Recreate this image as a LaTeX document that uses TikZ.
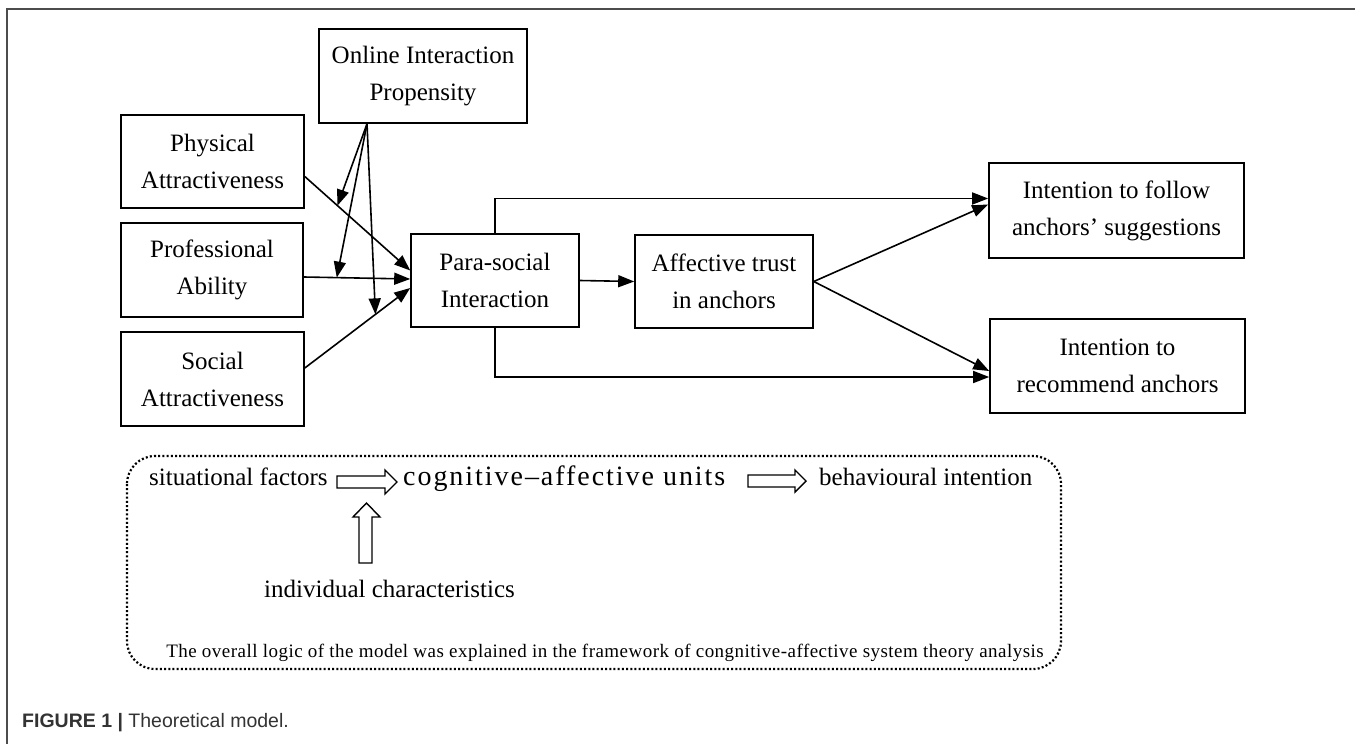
\documentclass[tikz,border=0pt]{standalone}
\usepackage{fontspec}
\setmainfont{Liberation Serif}
\newfontfamily\capfont{Liberation Sans}
\usetikzlibrary{arrows.meta,calc}
\begin{document}
\begin{tikzpicture}[x=1pt,y=-1pt,
  box/.style={draw,line width=1.6pt,align=center,inner sep=0pt,font=\fontsize{25}{37}\selectfont},
  conn/.style={line width=1.6pt,-{Triangle[length=16pt,width=12pt]}},
  hollow/.style={draw,line width=1.4pt,fill=white,line join=miter},
  lbl/.style={inner sep=0pt,font=\fontsize{25}{30}\selectfont},
]
\useasboundingbox (0,0) rectangle (1355,744);
\fill[white] (0,0) rectangle (1355,744);
\draw[line width=2pt, black!70] (7,744) -- (7,9) -- (1355,9);

% boxes
\node[box, minimum width=208pt, minimum height=94pt] (online) at (423,76) {Online Interaction\\Propensity};
\node[box, minimum width=183pt, minimum height=93pt] (phys) at (212.5,161.5) {Physical\\Attractiveness};
\node[box, minimum width=182pt, minimum height=94pt] (prof) at (212,270) {Professional\\Ability};
\node[box, minimum width=183pt, minimum height=94pt] (soc) at (212.5,379) {Social\\Attractiveness};
\node[box, minimum width=168pt, minimum height=93pt] (para) at (495,280.5) {Para-social\\Interaction};
\node[box, minimum width=178pt, minimum height=93pt] (aff) at (724,281.5) {Affective trust\\in anchors};
\node[box, minimum width=255pt, minimum height=95pt] (follow) at (1116.5,210.5) {Intention to follow\\anchors’ suggestions};
\node[box, minimum width=255pt, minimum height=94pt] (rec) at (1117.5,366) {Intention to\\recommend anchors};

% antecedents -> para-social
\coordinate (pe) at ($(phys.east)+(0,15)$);
\coordinate (re) at ($(prof.east)+(0,7)$);
\coordinate (se) at ($(soc.east)+(0,-11)$);
\coordinate (p1) at ($(para.west)+(0,-10)$);
\coordinate (p2) at ($(para.west)+(0,-1.5)$);
\coordinate (p3) at ($(para.west)+(0,7.5)$);
\draw[conn] (pe) -- (p1);
\draw[conn] (re) -- (p2);
\draw[conn] (se) -- (p3);
\path (pe) -- (p1) coordinate[pos=0.31] (m1);
\path (re) -- (p2) coordinate[pos=0.31] (m2);
\path (se) -- (p3) coordinate[pos=0.67] (m3);

% moderation
\coordinate (os) at ($(online.south)+(-56,0)$);
\draw[conn] (os) -- (m1);
\draw[conn] (os) -- (m2);
\draw[conn] (os) -- (m3);

% main path
\draw[conn] (para.east) -- (aff.west);
\coordinate (f1) at ($(follow.west)+(0,-12)$);
\coordinate (f2) at ($(follow.west)+(0,-6)$);
\coordinate (r1) at ($(rec.west)+(0,11)$);
\coordinate (r2) at ($(rec.west)+(0,5)$);
\draw[conn] (para.north) |- (f1);
\draw[conn] (aff.east) -- (f2);
\draw[conn] (para.south) |- (r1);
\draw[conn] (aff.east) -- (r2);

% dotted frame
\draw[line width=2.2pt, dash pattern=on 2pt off 2.2pt, rounded corners=28pt] (127,456) rectangle (1061,669);

\node[lbl, anchor=base west] (sit) at (149,485) {situational factors};
\node[lbl, anchor=base west, font=\fontsize{28}{30}\selectfont] (cog) at (403,485) {\addfontfeature{LetterSpace=7}cognitive–affective units};
\node[lbl, anchor=base west] (beh) at (819,485) {behavioural intention};
\node[lbl, anchor=base] (ind) at (389.5,597) {individual characteristics};

\draw[hollow] (337,476) -- (385,476) -- (385,470) -- (397,482) -- (385,494) -- (385,488) -- (337,488) -- cycle;
\draw[hollow] (748,475) -- (795,475) -- (795,470) -- (806,481) -- (795,492) -- (795,487) -- (748,487) -- cycle;
\draw[hollow] (359,563) -- (359,517) -- (353,517) -- (366.5,503) -- (380,517) -- (372,517) -- (372,563) -- cycle;

\node[inner sep=0pt, anchor=base, font=\fontsize{19}{22}\selectfont] (note) at (605,657) {\addfontfeature{LetterSpace=2.5}The overall logic of the model was explained in the framework of congnitive-affective system theory analysis};

\node[inner sep=0pt, anchor=base west, text=black!80, font=\capfont\fontsize{19.5}{22}\selectfont] (cap) at (22,727) {\textbf{FIGURE 1 |} Theoretical model.};
\end{tikzpicture}
\end{document}
